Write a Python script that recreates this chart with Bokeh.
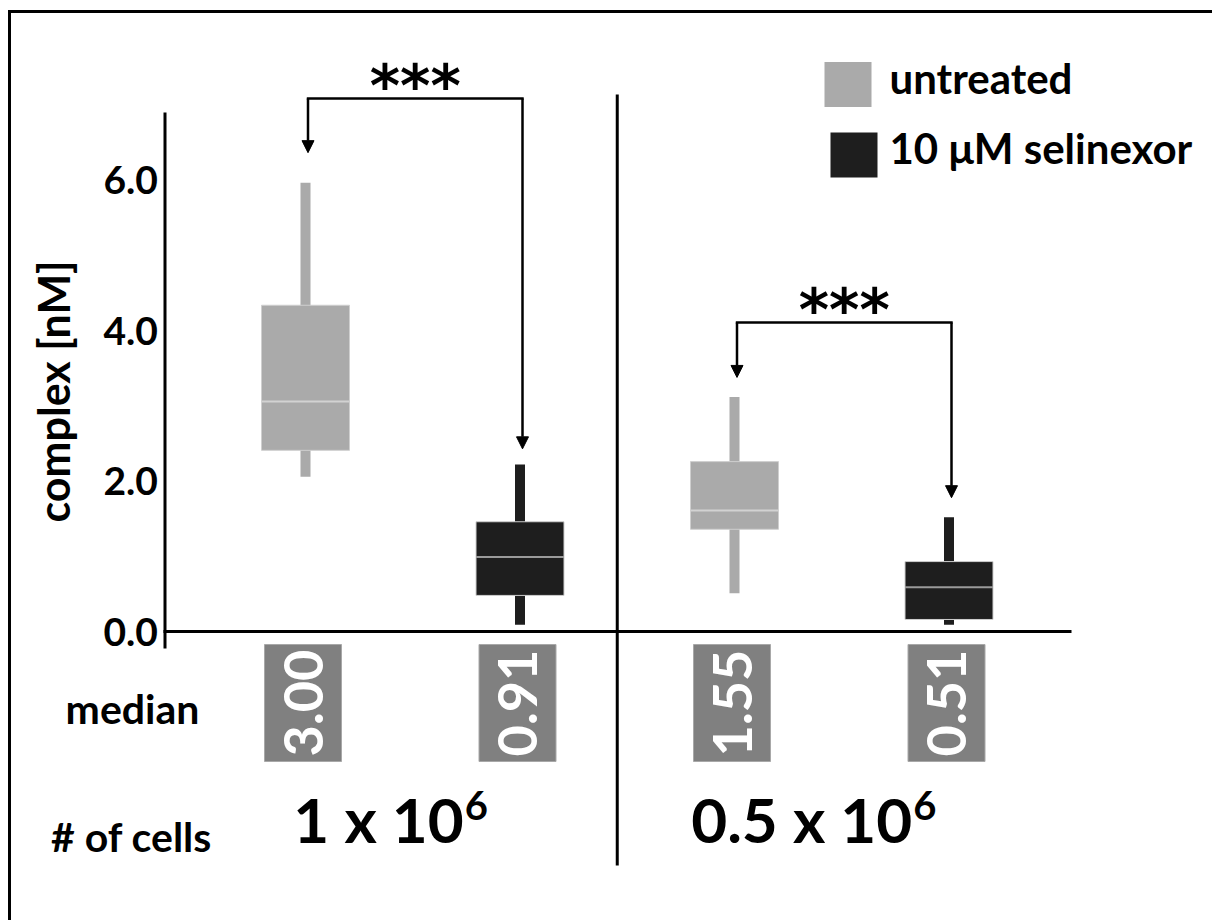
import numpy as np
from bokeh.plotting import figure
from bokeh.models import (Range1d, LinearAxis, FixedTicker, PrintfTickFormatter,
                          ColumnDataSource, Arrow, NormalHead)
from bokeh.core.properties import value
from bokeh.embed import file_html
from bokeh.resources import INLINE

# ---------------- data ----------------
group_labels = ["1 x 10", "0.5 x 10"]
group_sup = ["6", "6"]
treatments = ["untreated", "10 μM selinexor"]
treatment_colors = ["#aaaaaa", "#1e1e1e"]
median_line_colors = ["#d2d2d2", "#9a9a9a"]
# boxes in order: (1e6, untreated), (1e6, selinexor), (0.5e6, untreated), (0.5e6, selinexor)
whisker_low = [2.06, 0.09, 0.51, 0.09]
q1 = [2.41, 0.48, 1.36, 0.16]
median_line = [3.06, 0.99, 1.61, 0.59]
q3 = [4.34, 1.46, 2.26, 0.93]
whisker_high = [5.97, 2.22, 3.12, 1.52]
median_labels = ["3.00", "0.91", "1.55", "0.51"]
y_ticks = [0, 2, 4, 6]
bracket_level = [7.09, 4.11]
arrow_tip_left = [6.37, 3.38]
arrow_tip_right = [2.43, 1.78]
stars = ["***", "***"]

# ---------------- layout helpers (pixel geometry of the canvas) ----------------
W, H = 1212, 920
PX_X = 214.5          # pixels per box slot
PX_Y = 75.17          # pixels per nM
X0_PX, Y0_PX = 305.0, 631.0   # canvas position of box 0 centre / y = 0


def X(px):
    return (px - X0_PX) / PX_X


def Y(px):
    return (Y0_PX - px) / PX_Y


def dx(px):
    return px / PX_X


def dy(px):
    return px / PX_Y


FONT = value("Lato")

n_groups = len(group_labels)
n_treat = len(treatments)
xs = [g * n_treat + t for g in range(n_groups) for t in range(n_treat)]
tr_idx = [t for g in range(n_groups) for t in range(n_treat)]
fills = [treatment_colors[t] for t in tr_idx]
med_cols = [median_line_colors[t] for t in tr_idx]

p = figure(width=W, height=H, output_backend="svg", toolbar_location=None,
           x_range=Range1d(X(0), X(W)), y_range=Range1d(Y(H), Y(0)),
           x_axis_type=None, y_axis_type=None, min_border=0,
           min_border_left=0, min_border_right=0, min_border_top=0, min_border_bottom=0)
p.grid.visible = False
p.outline_line_color = None
p.background_fill_color = "white"
p.border_fill_color = "white"

# figure border (top and left only, as in the reference)
p.segment(x0=[X(8), X(9)], x1=[X(W), X(9)], y0=[Y(11), Y(9.5)], y1=[Y(11), Y(H)],
          line_color="black", line_width=3)

# y axis: ticks / labels from the axis, the visible line as a separate stroke
yaxis = LinearAxis(fixed_location=X(164.5), bounds=(Y(648), Y(134)),
                   ticker=FixedTicker(ticks=y_ticks),
                   formatter=PrintfTickFormatter(format="%.1f"),
                   axis_label="complex [nM]")
yaxis.axis_line_color = None
yaxis.major_tick_line_color = None
yaxis.minor_tick_line_color = None
yaxis.major_tick_in = 0
yaxis.major_tick_out = 0
yaxis.minor_tick_in = 0
yaxis.minor_tick_out = 0
yaxis.major_label_standoff = 7
yaxis.major_label_text_font = "Lato"
yaxis.major_label_text_font_style = "bold"
yaxis.major_label_text_font_size = "39px"
yaxis.major_label_text_color = "black"
yaxis.axis_label_text_font = "Lato"
yaxis.axis_label_text_font_style = "bold"
yaxis.axis_label_text_font_size = "43px"
yaxis.axis_label_text_color = "black"
yaxis.axis_label_standoff = 22
p.add_layout(yaxis, "left")
p.segment(x0=[X(164.5)], x1=[X(164.5)], y0=[Y(648)], y1=[Y(112)],
          line_color="black", line_width=3)

# x axis (baseline only)
xaxis = LinearAxis(fixed_location=0, bounds=(X(163), X(1071)),
                   ticker=FixedTicker(ticks=[]))
xaxis.axis_line_width = 3
xaxis.axis_line_color = "black"
xaxis.major_tick_line_color = None
xaxis.minor_tick_line_color = None
xaxis.major_label_text_font_size = "0px"
p.add_layout(xaxis, "below")

# separator between the two cell-number groups
sep_x = (xs[n_treat - 1] + xs[n_treat]) / 2 - dx(10)
p.segment(x0=[sep_x], x1=[sep_x], y0=[Y(94)], y1=[Y(865)], line_color="black", line_width=3)

src = ColumnDataSource(dict(x=xs, lo=whisker_low, q1=q1, med=median_line, q3=q3, hi=whisker_high,
                            fill=fills, medc=med_cols, lab=median_labels,
                            treat=[treatments[t] for t in tr_idx]))

# whiskers
p.vbar(x="x", bottom="lo", top="hi", width=dx(10), fill_color="fill", line_color=None, source=src)
# boxes
boxes = p.vbar(x="x", bottom="q1", top="q3", width=dx(88), fill_color="fill",
               line_color="#cfcfcf", line_width=1, source=src)
# median lines
src.data["x0"] = [x - dx(44) for x in xs]
src.data["x1"] = [x + dx(44) for x in xs]
p.segment(x0="x0", x1="x1", y0="med", y1="med", line_color="medc", line_width=2, source=src)

# median value labels under the axis
src.data["lx"] = [x - dx(2.5) for x in xs]
p.rect(x="lx", y=Y(702.5), width=dx(77), height=dy(117), fill_color="#808080",
       line_color="#a8a8a8", line_width=1, source=src)
p.text(x="lx", y=Y(702.5), text="lab", angle=np.pi / 2, text_align="center",
       text_baseline="middle", text_color="white", text_font=FONT, text_font_style="bold",
       text_font_size="54px", source=src)

# row titles
p.text(x=[X(132), X(131)], y=[Y(708), Y(836)], text=["median", "# of cells"],
       text_align="center", text_baseline="middle", text_color="black",
       text_font=FONT, text_font_style="bold", text_font_size="41px")

# group labels with superscript
gcent = [(xs[g * n_treat] + xs[g * n_treat + n_treat - 1]) / 2 for g in range(n_groups)]
split_px = [51, 70.5]
gx = [c + dx(s) for c, s in zip(gcent, split_px)]
p.text(x=gx, y=[Y(818)] * n_groups, text=group_labels, text_align="right",
       text_baseline="middle", text_color="black", text_font=FONT,
       text_font_style="bold", text_font_size="62px")
p.text(x=[x + dx(1) for x in gx], y=[Y(805)] * n_groups, text=group_sup, text_align="left",
       text_baseline="middle", text_color="black", text_font=FONT,
       text_font_style="bold", text_font_size="40px")

# significance brackets
bl = [xs[g * n_treat] + dx(2.5) for g in range(n_groups)]
br = [xs[g * n_treat + 1] + dx(2.5) for g in range(n_groups)]
p.segment(x0=[b - dx(1.2) for b in bl], x1=[b + dx(1.2) for b in br], y0=bracket_level,
          y1=bracket_level, line_color="black", line_width=2.5)
arr_src = ColumnDataSource(dict(xs=bl + br, ys=bracket_level + bracket_level,
                                ye=arrow_tip_left + arrow_tip_right))
p.add_layout(Arrow(end=NormalHead(size=12, fill_color="black", line_color="black", line_width=1),
                   x_start="xs", y_start="ys", x_end="xs", y_end="ye",
                   line_color="black", line_width=2.5, source=arr_src))
p.text(x=[(a + b) / 2 for a, b in zip(bl, br)], y=[lv + dy(13) for lv in bracket_level],
       text=stars, text_align="center", text_baseline="middle", text_color="black",
       text_font=value("DejaVu Sans"), text_font_style="bold", text_font_size="58px")

# legend (swatches + labels drawn from the treatment lists)
leg_cx = [X(847.5), X(853.5)]
leg_cy = [Y(84), Y(154.5)]
p.rect(x=leg_cx, y=leg_cy, width=dx(47), height=dy(45), fill_color=treatment_colors,
       line_color=None)
p.text(x=[X(889)] * n_treat, y=[Y(77), Y(147)], text=treatments, text_align="left",
       text_baseline="middle", text_color="black", text_font=FONT, text_font_style="bold",
       text_font_size="42px")

open("out.html", "w").write(file_html(p, INLINE))
